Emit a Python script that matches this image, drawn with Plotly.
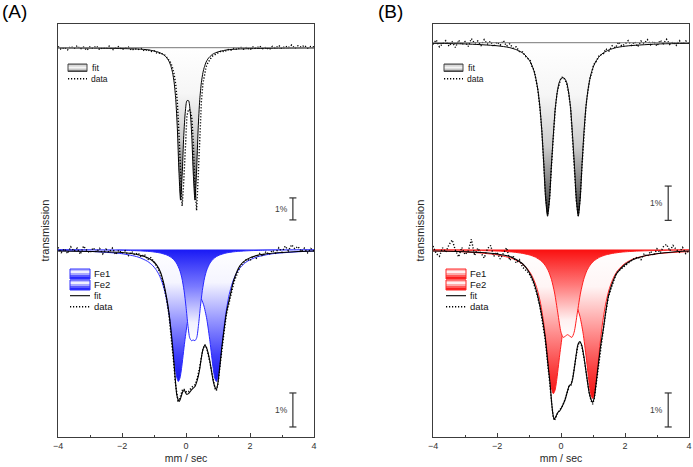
import plotly.graph_objects as go

W, H = 693, 467
FONT = "Liberation Sans, Arial, Helvetica, sans-serif"

# ---------------- Panel A, upper spectrum (absorption in % of baseline) ----------------
a_top_fit_x = [-4.0, -3.0, -2.0, -1.5, -1.17, -0.97, -0.87,
               -0.77, -0.72, -0.67, -0.62, -0.57, -0.52, -0.47, -0.42, -0.37, -0.32, -0.27, -0.22,
               -0.17, -0.12, -0.07, -0.02, 0.03, 0.08, 0.13, 0.18, 0.23, 0.28, 0.33, 0.38, 0.43,
               0.48, 0.53, 0.58, 0.63, 0.68, 0.73, 0.78, 0.83, 0.88,
               0.98, 1.08, 1.28, 1.61, 2.11, 3.11, 4.0]
a_top_fit_y = [0.01, 0.02, 0.04, 0.06, 0.10, 0.16, 0.20,
               0.26, 0.30, 0.36, 0.43, 0.52, 0.65, 0.85, 1.13, 1.59, 2.36, 3.69, 5.65,
               6.93, 5.80, 4.00, 2.89, 2.41, 2.41, 2.89, 4.00, 5.80, 6.93, 5.65, 3.69, 2.36,
               1.59, 1.13, 0.85, 0.65, 0.52, 0.43, 0.36, 0.30, 0.26,
               0.20, 0.16, 0.10, 0.06, 0.04, 0.02, 0.01]
a_top_data_x = [-4.0, -3.9, -3.8, -3.7, -3.6, -3.5, -3.4, -3.3, -3.2, -3.1, -3.0, -2.9, -2.8, -2.7,
                -2.6, -2.5, -2.4, -2.3, -2.2, -2.1, -2.0, -1.9, -1.8, -1.7, -1.6, -1.5, -1.4, -1.3,
                -1.2, -1.1, -1.0, -0.9, -0.8,
                -0.72, -0.67, -0.62, -0.57, -0.52, -0.47, -0.42, -0.37, -0.32, -0.27, -0.22, -0.17,
                -0.12, -0.07, -0.02, 0.03, 0.08, 0.13, 0.18, 0.23, 0.28, 0.33, 0.38, 0.43, 0.48,
                0.53, 0.58, 0.63, 0.68, 0.73, 0.78, 0.83, 0.88, 0.93,
                1.0, 1.1, 1.2, 1.3, 1.4, 1.5, 1.6, 1.7, 1.8, 1.9, 2.0, 2.1, 2.2, 2.3, 2.4, 2.5, 2.6,
                2.7, 2.8, 2.9, 3.0, 3.1, 3.2, 3.3, 3.4, 3.5, 3.6, 3.7, 3.8, 3.9, 4.0]
a_top_data_y = [-0.05, 0.08, -0.02, 0.10, -0.06, 0.04, -0.09, 0.06, -0.03, 0.12, -0.04, 0.02, -0.08,
                0.09, -0.01, 0.05, -0.07, 0.11, 0.01, -0.05, 0.08, 0.02, -0.03, 0.12, 0.04, 0.09,
                0.03, 0.15, 0.08, 0.18, 0.14, 0.26, 0.24,
                0.30, 0.33, 0.40, 0.50, 0.58, 0.70, 0.92, 1.22, 1.68, 2.50, 3.90, 5.95,
                7.20, 6.05, 4.25, 3.10, 2.80, 2.85, 3.15, 4.30, 6.20, 7.40, 5.95, 3.85, 2.45,
                1.62, 1.15, 0.86, 0.70, 0.55, 0.47, 0.38, 0.33, 0.28,
                0.24, 0.15, 0.19, 0.08, 0.12, 0.02, 0.09, -0.03, 0.07, -0.02, 0.10, -0.04, 0.03,
                -0.08, 0.05, -0.02, 0.09, -0.06, 0.02, -0.10, 0.04, -0.07, 0.00, -0.12, 0.03,
                -0.09, -0.02, -0.11, 0.02, -0.06, -0.03]

# ---------------- Panel A, lower spectrum ----------------
a_bot_fe1_x = [-4.0, -3.0, -2.0, -1.5, -1.2, -1.04, -0.94, -0.84, -0.74, -0.64, -0.54, -0.44, -0.34,
               -0.29, -0.24, -0.19, -0.14, -0.04, 0.06, 0.16, 0.26, 0.355, 0.45, 0.55, 0.65, 0.75,
               0.85, 0.90, 0.95, 1.00, 1.05, 1.15, 1.25, 1.35, 1.45, 1.55, 1.65, 1.75, 1.91, 2.21,
               2.71, 3.71, 4.0]
a_bot_fe1_y = [0.032, 0.056, 0.124, 0.221, 0.35, 0.474, 0.588, 0.747, 0.979, 1.324, 1.844, 2.585,
               3.438, 3.753, 3.882, 3.785, 3.5, 2.715, 2.05, 1.626, 1.403, 1.338, 1.403, 1.626, 2.05,
               2.715, 3.5, 3.785, 3.882, 3.753, 3.438, 2.585, 1.844, 1.324, 0.979, 0.747, 0.588,
               0.474, 0.35, 0.221, 0.124, 0.056, 0.045]
a_bot_fe2_x = [-4.0, -3.0, -2.0, -1.5, -1.2, -1.0, -0.8, -0.6, -0.5, -0.4, -0.3, -0.2, -0.13, -0.06,
               0.0, 0.06, 0.115, 0.17, 0.225, 0.28, 0.335, 0.39, 0.45, 0.51, 0.58, 0.65, 0.75, 0.85,
               0.95, 1.05, 1.25, 1.45, 1.65, 1.95, 2.45, 3.45, 4.0]
a_bot_fe2_y = [0.006, 0.011, 0.022, 0.037, 0.054, 0.073, 0.104, 0.162, 0.209, 0.282, 0.397, 0.60,
               0.835, 1.212, 1.682, 2.229, 2.594, 2.682, 2.662, 2.682, 2.594, 2.229, 1.682, 1.212,
               0.835, 0.60, 0.397, 0.282, 0.209, 0.162, 0.104, 0.073, 0.054, 0.037, 0.022, 0.011,
               0.008]
a_bot_fit_x = [-4.0, -3.0, -2.0, -1.6, -1.3, -1.1, -0.92, -0.8, -0.7, -0.6, -0.53, -0.47, -0.42,
               -0.375, -0.33, -0.29, -0.25, -0.21, -0.16, -0.10, -0.05, 0.02, 0.08, 0.18, 0.28, 0.35,
               0.42, 0.48, 0.53, 0.59, 0.65, 0.73, 0.80, 0.86, 0.91, 0.95, 1.00, 1.06, 1.12, 1.19,
               1.27, 1.375, 1.5, 1.69, 1.9, 2.2, 2.6, 3.0, 3.5, 4.0]
a_bot_fit_y = [0.044, 0.059, 0.088, 0.132, 0.206, 0.294, 0.45, 0.66, 0.98, 1.45, 1.88, 2.38, 2.87,
               3.35, 3.88, 4.26, 4.41, 4.47, 4.35, 4.18, 4.15, 4.26, 4.24, 4.12, 4.03, 3.85, 3.56,
               3.18, 2.94, 2.82, 2.91, 3.21, 3.59, 3.91, 4.06, 4.12, 3.91, 3.41, 2.88, 2.35, 1.82,
               1.38, 0.88, 0.47, 0.29, 0.18, 0.12, 0.088, 0.059, 0.044]
a_bot_data_x = [-4.0, -3.9, -3.8, -3.7, -3.6, -3.5, -3.4, -3.3, -3.2, -3.1, -3.0, -2.9, -2.8, -2.7,
                -2.6, -2.5, -2.4, -2.3, -2.2, -2.1, -2.0, -1.9, -1.8, -1.7, -1.6, -1.5, -1.4, -1.3,
                -1.2, -1.1, -1.0,
                -0.92, -0.8, -0.7, -0.6, -0.53, -0.47, -0.42, -0.375, -0.33, -0.29, -0.25, -0.21,
                -0.16, -0.10, -0.05, 0.02, 0.08, 0.18, 0.28, 0.35, 0.42, 0.48, 0.53, 0.59, 0.65,
                0.73, 0.80, 0.86, 0.91, 0.95, 1.00, 1.06, 1.12, 1.19, 1.27, 1.375, 1.5, 1.69,
                1.8, 1.9, 2.0, 2.1, 2.2, 2.3, 2.4, 2.5, 2.6, 2.7, 2.8, 2.9, 3.0, 3.1, 3.2, 3.3, 3.4,
                3.5, 3.6, 3.7, 3.8, 3.9, 4.0]
a_bot_data_y = [-0.06, 0.09, -0.02, 0.12, -0.08, 0.05, -0.04, 0.14, -0.10, 0.03, 0.10, -0.05, 0.07,
                -0.03, 0.13, -0.01, 0.08, -0.04, 0.15, 0.02, 0.11, 0.04, 0.18, 0.06, 0.16, 0.10,
                0.22, 0.14, 0.30, 0.24, 0.36,
                0.48, 0.70, 1.03, 1.50, 1.95, 2.45, 2.95, 3.42, 3.95, 4.30, 4.45, 4.42, 4.30, 4.10,
                4.12, 4.20, 4.18, 4.05, 3.98, 3.80, 3.50, 3.12, 2.92, 2.80, 2.90, 3.25, 3.62, 3.95,
                4.10, 4.15, 3.95, 3.45, 2.92, 2.42, 1.88, 1.45, 0.95, 0.50,
                0.40, 0.28, 0.33, 0.18, 0.26, 0.12, 0.20, 0.06, 0.15, 0.02, 0.11, -0.05, 0.08,
                -0.10, 0.04, -0.14, -0.02, -0.09, 0.06, -0.04, 0.10, -0.03, 0.05]

# ---------------- Panel B, upper spectrum ----------------
b_top_fit_x = [-4.0, -3.0, -2.0, -1.62, -1.38, -1.2, -1.08,
               -0.96, -0.90, -0.84, -0.78, -0.72, -0.66, -0.60, -0.54, -0.48, -0.42, -0.36, -0.30,
               -0.24, -0.18, -0.12, -0.06, 0.00, 0.06, 0.12, 0.18, 0.24, 0.30, 0.36, 0.42, 0.48,
               0.54, 0.60, 0.66, 0.72, 0.78, 0.84, 0.90, 0.96, 1.02, 1.08,
               1.20, 1.32, 1.50, 1.74, 2.12, 3.12, 4.0]
b_top_fit_y = [0.02, 0.035, 0.09, 0.14, 0.21, 0.30, 0.40,
               0.56, 0.68, 0.84, 1.07, 1.40, 1.87, 2.57, 3.52, 4.56, 5.06, 4.60, 3.60,
               2.70, 1.92, 1.46, 1.17, 1.05, 1.02, 1.05, 1.17, 1.46, 1.92, 2.70, 3.60, 4.60,
               5.06, 4.56, 3.52, 2.57, 1.87, 1.40, 1.07, 0.84, 0.68, 0.56,
               0.40, 0.30, 0.21, 0.14, 0.09, 0.035, 0.02]
b_top_data_x = [-4.0, -3.9, -3.8, -3.7, -3.6, -3.5, -3.4, -3.3, -3.2, -3.1, -3.0, -2.9, -2.8, -2.7,
                -2.6, -2.5, -2.4, -2.3, -2.2, -2.1, -2.0, -1.9, -1.8, -1.7, -1.6, -1.5, -1.4, -1.3,
                -1.2, -1.08, -0.96, -0.90, -0.84, -0.78, -0.72, -0.66, -0.60, -0.54, -0.48, -0.42,
                -0.36, -0.30, -0.24, -0.18, -0.12, -0.06, 0.00, 0.06, 0.12, 0.18, 0.24, 0.30, 0.36,
                0.42, 0.48, 0.54, 0.60, 0.66, 0.72, 0.78, 0.84, 0.90, 0.96, 1.02, 1.08, 1.20, 1.32,
                1.4, 1.5, 1.6, 1.7, 1.8, 1.9, 2.0, 2.1, 2.2, 2.3, 2.4, 2.5, 2.6, 2.7, 2.8, 2.9, 3.0,
                3.1, 3.2, 3.3, 3.4, 3.5, 3.6, 3.7, 3.8, 3.9, 4.0]
b_top_data_y = [0.05, -0.08, 0.12, 0.03, -0.06, 0.10, -0.02, 0.14, -0.07, 0.06, -0.03, 0.11, -0.12,
                0.02, -0.05, 0.08, -0.09, 0.04, -0.04, 0.12, -0.02, 0.07, -0.06, 0.10, 0.03, 0.16,
                0.12, 0.26,
                0.27, 0.43, 0.52, 0.72, 0.80, 1.10, 1.38, 1.90, 2.55, 3.50, 4.50, 5.00, 4.58, 3.62,
                2.68, 1.95, 1.44, 1.19, 1.02, 1.00, 1.07, 1.20, 1.48, 1.90, 2.72, 3.58, 4.62, 5.04,
                4.52, 3.55, 2.55, 1.85, 1.42, 1.05, 0.88, 0.64, 0.58, 0.36, 0.34,
                0.18, 0.24, 0.09, 0.15, -0.02, 0.10, 0.04, -0.06, 0.08, -0.03, 0.12, -0.05, 0.02,
                -0.09, 0.06, -0.04, 0.10, -0.07, 0.03, -0.10, 0.05, -0.02, 0.08, -0.06, 0.04, -0.05,
                0.02]

# ---------------- Panel B, lower spectrum ----------------
b_bot_fe1_x = [-4.0, -3.0, -2.0, -1.5, -1.24, -1.04, -0.94, -0.84, -0.74, -0.64, -0.54, -0.44, -0.34,
               -0.29, -0.24, -0.19, -0.14, -0.04, 0.06, 0.16, 0.26, 0.375, 0.49, 0.59, 0.69, 0.79,
               0.89, 0.94, 0.99, 1.04, 1.09, 1.19, 1.29, 1.39, 1.49, 1.59, 1.69, 1.79, 1.99, 2.3,
               3.0, 4.0]
b_bot_fe1_y = [0.04, 0.07, 0.156, 0.274, 0.406, 0.582, 0.718, 0.912, 1.182, 1.579, 2.159, 2.95,
               3.809, 4.118, 4.241, 4.153, 3.882, 3.10, 2.397, 1.924, 1.662, 1.571, 1.682, 1.962,
               2.459, 3.191, 4.009, 4.291, 4.382, 4.256, 3.938, 3.047, 2.226, 1.629, 1.221, 0.938,
               0.738, 0.597, 0.415, 0.262, 0.126, 0.062]
b_bot_fe2_x = [-4.0, -3.0, -2.0, -1.5, -1.2, -1.0, -0.8, -0.6, -0.5, -0.4, -0.3, -0.2, -0.1, 0.0,
               0.07, 0.13, 0.205, 0.28, 0.34, 0.41, 0.51, 0.61, 0.71, 0.81, 0.91, 1.01, 1.21, 1.41,
               1.61, 1.91, 2.41, 3.41, 4.0]
b_bot_fe2_y = [0.012, 0.021, 0.046, 0.076, 0.115, 0.156, 0.224, 0.35, 0.459, 0.62, 0.876, 1.28,
               1.865, 2.435, 2.585, 2.553, 2.506, 2.553, 2.585, 2.435, 1.865, 1.28, 0.876, 0.62,
               0.459, 0.35, 0.224, 0.156, 0.115, 0.076, 0.046, 0.021, 0.015]
b_bot_fit_x = [-4.0, -3.5, -3.0, -2.5, -2.0, -1.6, -1.4, -1.2, -1.0, -0.87, -0.76, -0.66, -0.58,
               -0.5, -0.45, -0.40, -0.34, -0.29, -0.25, -0.21, -0.16, -0.1, -0.03, 0.05, 0.13, 0.2,
               0.26, 0.31, 0.36, 0.42, 0.48, 0.53, 0.59, 0.65, 0.72, 0.8, 0.88, 0.94, 0.99, 1.04,
               1.1, 1.17, 1.24, 1.32, 1.4, 1.48, 1.6, 1.74, 2.0, 2.26, 2.6, 3.04, 3.5, 4.0]
b_bot_fit_y = [0.044, 0.053, 0.068, 0.088, 0.132, 0.206, 0.294, 0.42, 0.66, 0.92, 1.25, 1.65, 2.05,
               2.55, 2.98, 3.45, 3.96, 4.529, 4.853, 5.0, 4.912, 4.794, 4.735, 4.588, 4.412, 4.176,
               4.0, 3.971, 3.824, 3.471, 3.059, 2.794, 2.706, 2.824, 3.176, 3.706, 4.206, 4.412,
               4.5, 4.353, 3.912, 3.353, 2.824, 2.353, 1.824, 1.382, 1.0, 0.706, 0.441, 0.294,
               0.191, 0.118, 0.074, 0.044]
b_bot_data_x = [-4.0, -3.9, -3.8, -3.7, -3.6, -3.5, -3.4, -3.3, -3.2, -3.1, -3.0, -2.9, -2.8, -2.7,
                -2.6, -2.5, -2.4, -2.3, -2.2, -2.1, -2.0, -1.9, -1.8, -1.7, -1.6, -1.5, -1.4, -1.3,
                -1.2, -1.0, -0.87, -0.76, -0.66, -0.58, -0.5, -0.45, -0.40, -0.34, -0.29, -0.25,
                -0.21, -0.16, -0.1, -0.03, 0.05, 0.13, 0.2, 0.26, 0.31, 0.36, 0.42, 0.48, 0.53,
                0.59, 0.65, 0.72, 0.8, 0.88, 0.94, 0.99, 1.04, 1.1, 1.17, 1.24, 1.32, 1.4, 1.48,
                1.6, 1.74, 2.0, 2.26,
                2.4, 2.5, 2.6, 2.7, 2.8, 2.9, 3.0, 3.1, 3.2, 3.3, 3.4, 3.5, 3.6, 3.7, 3.8, 3.9, 4.0]
b_bot_data_y = [-0.10, 0.12, 0.20, -0.05, 0.08, -0.14, -0.28, 0.02, 0.22, -0.06, 0.15, 0.05, -0.30,
                0.18, -0.04, 0.10, 0.25, -0.02, -0.12, 0.20, 0.08, 0.28, 0.12, -0.05, 0.32, 0.18,
                0.40, 0.30,
                0.52, 0.70, 0.95, 1.28, 1.68, 2.10, 2.60, 3.02, 3.50, 4.02, 4.55, 4.90, 5.03, 4.95,
                4.80, 4.70, 4.60, 4.40, 4.20, 4.00, 3.99, 3.80, 3.45, 3.05, 2.80, 2.72, 2.84, 3.20,
                3.72, 4.22, 4.45, 4.55, 4.38, 3.92, 3.38, 2.85, 2.38, 1.85, 1.40, 1.05, 0.68, 0.48,
                0.28,
                0.22, 0.30, 0.12, 0.20, 0.05, 0.18, -0.02, 0.10, -0.08, -0.15, 0.04, -0.12, 0.00,
                0.08, -0.06, 0.12, 0.04]

x_ticks = [-4, -2, 0, 2, 4]
x_tick_labels = ["\u22124", "\u22122", "0", "2", "4"]
legend_top = ["fit", "data"]
legend_bot = ["Fe1", "Fe2", "fit", "data"]
scale_label = "1%"

# ---------------- geometry helpers (pixels -> paper) ----------------
def px(x):
    return x / W


def py(y):
    return 1 - y / H


GRAY_SCALE = [[0, 'rgb(255,255,255)'], [0.3, 'rgb(246,246,246)'], [0.6, 'rgb(205,205,205)'],
              [0.85, 'rgb(115,115,115)'], [1, 'rgb(40,40,40)']]
BLUE_FE1 = [[0, 'rgb(255,255,255)'], [0.25, 'rgb(245,245,255)'], [0.55, 'rgb(145,145,255)'],
            [0.8, 'rgb(65,65,250)'], [1, 'rgb(20,20,240)']]
BLUE_FE2 = [[0, 'rgb(25,25,245)'], [0.4, 'rgb(120,120,255)'], [0.8, 'rgb(240,240,255)'],
            [1, 'rgb(255,255,255)']]
RED_FE1 = [[0, 'rgb(255,255,255)'], [0.25, 'rgb(255,245,245)'], [0.55, 'rgb(255,145,145)'],
           [0.8, 'rgb(250,65,65)'], [1, 'rgb(240,15,15)']]
RED_FE2 = [[0, 'rgb(250,15,15)'], [0.4, 'rgb(255,120,120)'], [0.8, 'rgb(255,240,240)'],
           [1, 'rgb(255,255,255)']]

DOT = '1.2px,1.8px'

fig = go.Figure()


def filled(x, y, xa, ya, scale, line_color, lw=1.0):
    fig.add_trace(go.Scatter(
        x=x, y=y, xaxis=xa, yaxis=ya, mode='lines',
        line=dict(color=line_color, width=lw, shape='spline', smoothing=0.7),
        fill='tozeroy',
        fillgradient=dict(type='vertical', colorscale=scale, start=0, stop=max(y)),
        showlegend=False, hoverinfo='skip'))


def fitline(x, y, xa, ya):
    fig.add_trace(go.Scatter(
        x=x, y=y, xaxis=xa, yaxis=ya, mode='lines',
        line=dict(color='black', width=1.1, shape='spline', smoothing=0.7),
        showlegend=False, hoverinfo='skip'))


def dataline(x, y, xa, ya):
    fig.add_trace(go.Scatter(
        x=x, y=y, xaxis=xa, yaxis=ya, mode='lines',
        line=dict(color='black', width=1.4, dash=DOT),
        showlegend=False, hoverinfo='skip'))


# Panel A top
filled(a_top_fit_x, a_top_fit_y, 'x', 'y', GRAY_SCALE, 'black', 1.0)
dataline(a_top_data_x, a_top_data_y, 'x', 'y')
# Panel A bottom
filled(a_bot_fe1_x, a_bot_fe1_y, 'x', 'y2', BLUE_FE1, 'rgb(40,40,255)')
filled(a_bot_fe2_x, a_bot_fe2_y, 'x', 'y2', BLUE_FE2, 'rgb(40,40,255)')
fitline(a_bot_fit_x, a_bot_fit_y, 'x', 'y2')
dataline(a_bot_data_x, a_bot_data_y, 'x', 'y2')
# Panel B top
filled(b_top_fit_x, b_top_fit_y, 'x2', 'y3', GRAY_SCALE, 'black', 1.0)
dataline(b_top_data_x, b_top_data_y, 'x2', 'y3')
# Panel B bottom
filled(b_bot_fe1_x, b_bot_fe1_y, 'x2', 'y4', RED_FE1, 'rgb(255,30,30)')
filled(b_bot_fe2_x, b_bot_fe2_y, 'x2', 'y4', RED_FE2, 'rgb(255,30,30)')
fitline(b_bot_fit_x, b_bot_fit_y, 'x2', 'y4')
dataline(b_bot_data_x, b_bot_data_y, 'x2', 'y4')

shapes = []
annotations = []

# baselines of the upper spectra
for xr, yr in [('x', 'y'), ('x2', 'y3')]:
    shapes.append(dict(type='line', xref=xr, yref=yr, x0=-4, x1=4, y0=0, y1=0,
                       line=dict(color='rgb(120,120,120)', width=1), layer='above'))

# 1% scale bars: (xref, yref, x, y_top, y_bottom)
for xr, yr, xb, y0, y1 in [('x', 'y', 3.34, 6.83, 7.83), ('x', 'y2', 3.34, 4.22, 5.22),
                           ('x2', 'y3', 3.35, 4.18, 5.18), ('x2', 'y4', 3.35, 4.22, 5.22)]:
    lc = dict(color='rgb(50,50,50)', width=1.2)
    shapes.append(dict(type='line', xref=xr, yref=yr, x0=xb, x1=xb, y0=y0, y1=y1, line=lc))
    shapes.append(dict(type='line', xref=xr, yref=yr, x0=xb - 0.11, x1=xb + 0.11, y0=y0, y1=y0, line=lc))
    shapes.append(dict(type='line', xref=xr, yref=yr, x0=xb - 0.11, x1=xb + 0.11, y0=y1, y1=y1, line=lc))
    annotations.append(dict(xref=xr, yref=yr, x=xb - 0.1, y=(y0 + y1) / 2, text=scale_label,
                            showarrow=False, xanchor='right', yanchor='middle',
                            font=dict(family=FONT, size=8.5, color='rgb(60,60,60)')))


def swatch(x0, y0, x1, y1, colors, border):
    n = len(colors)
    h = (y1 - y0) / n
    for i, c in enumerate(colors):
        shapes.append(dict(type='rect', xref='paper', yref='paper',
                           x0=px(x0), x1=px(x1), y0=py(y0 + i * h), y1=py(y0 + (i + 1) * h),
                           fillcolor=c, line=dict(width=0)))
    shapes.append(dict(type='rect', xref='paper', yref='paper', x0=px(x0), x1=px(x1),
                       y0=py(y0), y1=py(y1), line=dict(color=border, width=1)))


def legline(x0, x1, y, dash):
    shapes.append(dict(type='line', xref='paper', yref='paper', x0=px(x0), x1=px(x1),
                       y0=py(y), y1=py(y), line=dict(color='black', width=1.4 if dash else 1.1,
                                                      dash=DOT if dash else 'solid')))


def legtext(x, y, t, size):
    annotations.append(dict(xref='paper', yref='paper', x=px(x), y=py(y), text=t, showarrow=False,
                            xanchor='left', yanchor='middle',
                            font=dict(family=FONT, size=size, color='rgb(20,20,20)')))


GRAY_SW = ['rgb(160,160,160)', 'rgb(225,225,225)', 'rgb(245,245,245)', 'rgb(200,200,200)',
           'rgb(120,120,120)']
BLUE_SW = ['rgb(190,190,255)', 'rgb(240,240,255)', 'rgb(170,170,255)', 'rgb(90,90,255)',
           'rgb(40,40,255)']
RED_SW = ['rgb(255,190,190)', 'rgb(255,240,240)', 'rgb(255,170,170)', 'rgb(255,90,90)',
          'rgb(250,30,30)']

for off in (0, 376):
    # upper legend
    swatch(68 + off, 64, 87 + off, 71.5, GRAY_SW, 'rgb(70,70,70)')
    legtext(89.5 + off, 68, legend_top[0], 9)
    legline(68 + off, 87 + off, 78.7, True)
    legtext(89 + off, 78.7, legend_top[1], 8.5)
    # lower legend
    sw = BLUE_SW if off == 0 else RED_SW
    bc = 'rgb(50,50,255)' if off == 0 else 'rgb(255,40,40)'
    swatch(70 + off, 269, 90 + off, 279, sw, bc)
    swatch(70 + off, 280, 90 + off, 290, sw, bc)
    legline(70 + off, 90 + off, 295.7, False)
    legline(70 + off, 90 + off, 306.7, True)
    legtext(92 + off, 273.5, legend_bot[0], 9.5)
    legtext(92 + off, 284.5, legend_bot[1], 9.5)
    legtext(92 + off, 295.7, legend_bot[2], 9)
    legtext(92 + off, 306.7, legend_bot[3], 9.5)

# panel letters
annotations.append(dict(xref='paper', yref='paper', x=px(0), y=py(12), text='(A)', showarrow=False,
                        xanchor='left', yanchor='middle', font=dict(family=FONT, size=19, color='black')))
annotations.append(dict(xref='paper', yref='paper', x=px(376), y=py(12), text='(B)', showarrow=False,
                        xanchor='left', yanchor='middle', font=dict(family=FONT, size=19, color='black')))

ydom = [py(437), py(24)]
xcommon = dict(range=[-4, 4], showline=True, mirror=True, linecolor='rgb(60,60,60)', linewidth=1,
               ticks='inside', ticklen=4, tickcolor='rgb(60,60,60)', tickvals=x_ticks,
               ticktext=x_tick_labels,
               minor=dict(ticks='inside', ticklen=2.5, tickcolor='rgb(60,60,60)', dtick=1, tick0=-4),
               showgrid=False, zeroline=False, automargin=False,
               tickfont=dict(family=FONT, size=9, color='rgb(50,50,50)'),
               title=dict(text='mm / sec', font=dict(family=FONT, size=10.5, color='rgb(40,40,40)'),
                          standoff=4))
ycommon = dict(domain=ydom, showline=True, mirror=True, linecolor='rgb(60,60,60)', linewidth=1,
               ticks='', showticklabels=False, showgrid=False, zeroline=False, automargin=False,
               title=dict(text='transmission', font=dict(family=FONT, size=11, color='rgb(40,40,40)'),
                          standoff=5))
yhidden = dict(visible=False, showgrid=False, zeroline=False)

fig.update_layout(
    width=W, height=H, margin=dict(l=0, r=0, t=0, b=0),
    paper_bgcolor='white', plot_bgcolor='white', showlegend=False,
    xaxis=dict(domain=[px(58), px(314)], anchor='y', **xcommon),
    xaxis2=dict(domain=[px(433), px(689)], anchor='y3', **xcommon),
    yaxis=dict(anchor='x', range=[17.70, -1.077], **ycommon),
    yaxis2=dict(anchor='x', overlaying='y', range=[5.515, -6.632], **yhidden),
    yaxis3=dict(anchor='x2', range=[11.496, -0.545], **ycommon),
    yaxis4=dict(anchor='x2', overlaying='y3', range=[5.515, -6.632], **yhidden),
    shapes=shapes, annotations=annotations,
)

fig.write_html("out.html",
               config={'displayModeBar': False, 'staticPlot': True},
               post_script="document.body.style.margin='0';document.body.style.padding='0';"
                           "document.body.style.overflow='hidden';")
